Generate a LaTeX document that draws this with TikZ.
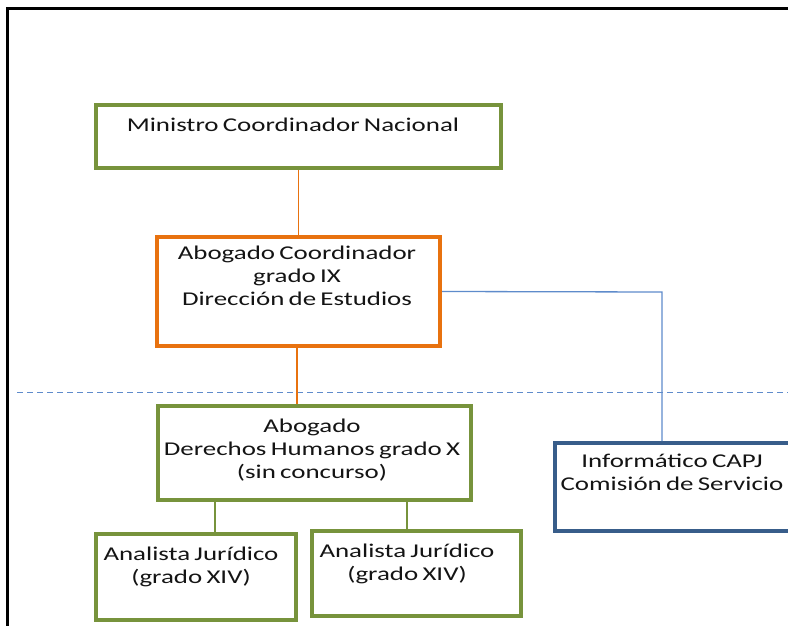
\documentclass[tikz,border=0pt]{standalone}
\usepackage{fontspec}
\setmainfont{Carlito}[FakeStretch=1.38, WordSpace=0.7]
\definecolor{boxgreen}{HTML}{77933C}
\definecolor{boxorange}{HTML}{E8720F}
\definecolor{boxblue}{HTML}{385D8A}
\definecolor{lineblue}{HTML}{5E8BCB}
\definecolor{textdark}{HTML}{141414}
\tikzset{
  x=1pt, y=1pt,
  boxbase/.style={draw, line width=4pt, rectangle, inner sep=0pt, fill=white},
  greenbox/.style={boxbase, draw=boxgreen},
  orangebox/.style={boxbase, draw=boxorange},
  bluebox/.style={boxbase, draw=boxblue},
  label text/.style={anchor=north, inner sep=0pt, align=center, text=textdark,
    font=\fontsize{19.5}{23}\selectfont},
  orangeline/.style={draw=boxorange, line width=1.3pt},
  greenline/.style={draw=boxgreen, line width=1.3pt},
  blueline/.style={draw=lineblue, line width=1.3pt},
  dashline/.style={draw=lineblue, line width=1.3pt, dash pattern=on 6pt off 4pt},
  framestyle/.style={draw=black, line width=3pt}
}
\newcommand{\tstrut}{\rule{0pt}{16pt}}
\begin{document}
\begin{tikzpicture}
\clip (0,0) rectangle (788,-626);
\fill[white] (0,0) rectangle (788,-626);
% outer frame (cut off at right and bottom)
\draw[framestyle] (7.5,-9) rectangle (820,-660);
% dashed separator
\coordinate (dl) at (17,-392.5);
\coordinate (dr) at (790,-392.5);
\draw[dashline] (dl) -- (dr);
% boxes
\node[greenbox, minimum width=405pt, minimum height=63pt] (min) at (298.5,-136.5) {};
\node[orangebox, minimum width=283pt, minimum height=109pt] (abc) at (298.5,-291.5) {};
\node[greenbox, minimum width=313pt, minimum height=94pt] (dh) at (314.5,-453) {};
\node[greenbox, minimum width=200pt, minimum height=86pt] (an1) at (196,-577) {};
\node[greenbox, minimum width=209pt, minimum height=85pt] (an2) at (416.5,-573.5) {};
\node[bluebox, minimum width=242pt, minimum height=88pt] (info) at (676,-487) {};
% connectors
\draw[orangeline] (abc.north) -- (abc.north |- min.south);
\draw[orangeline] ([xshift=-1.5pt]abc.south) -- ([xshift=-1.5pt]abc.south |- dh.north);
\coordinate (turn) at (662,-292);
\draw[blueline] (abc.east) -- (turn) -- (turn |- info.north);
\coordinate (c1) at (215,0);
\coordinate (c2) at (407,0);
\draw[greenline] (c1 |- dh.south) -- (c1 |- an1.north);
\draw[greenline] (c2 |- dh.south) -- (c2 |- an2.north);
% texts
\node[label text] (tmin) at (293,-115) {\tstrut Ministro Coordinador Nacional};
\node[label text] (tabc) at (297,-243) {\tstrut Abogado Coordinador\\grado IX\\Dirección de Estudios};
\node[label text] (tdh) at (312,-416) {\tstrut Abogado\\Derechos Humanos grado X\\(sin concurso)};
\node[label text] (tan1) at (191,-544) {\tstrut Analista Jurídico\\(grado XIV)};
\node[label text] (tan2) at (407,-541) {\tstrut Analista Jurídico\\(grado XIV)};
\node[label text] (tinfo) at (672,-451) {\tstrut Informático CAPJ\\Comisión de Servicio};
\end{tikzpicture}
\end{document}
